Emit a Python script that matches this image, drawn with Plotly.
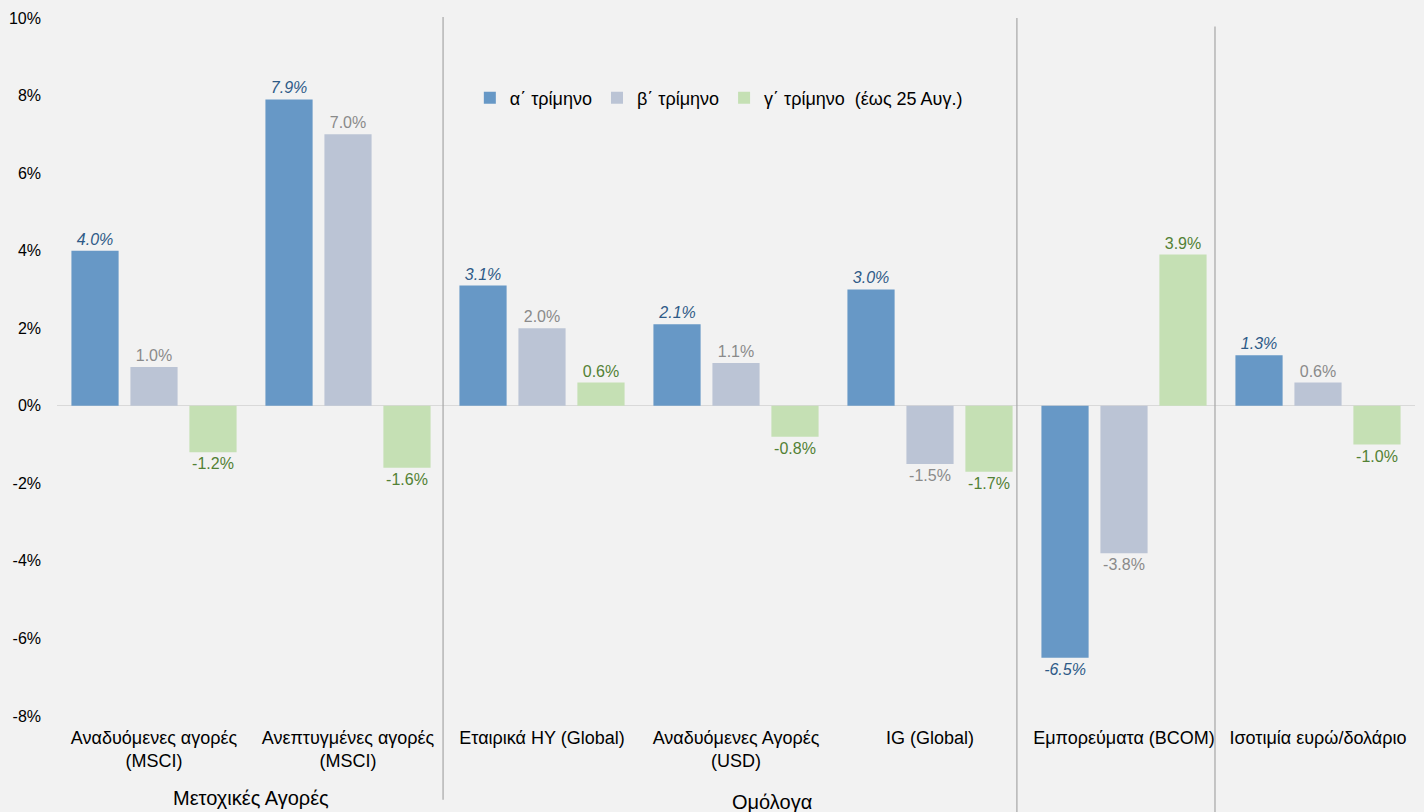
import plotly.graph_objects as go

categories = [
    "Αναδυόμενες αγορές<br>(MSCI)",
    "Ανεπτυγμένες αγορές<br>(MSCI)",
    "Εταιρικά HY (Global)",
    "Αναδυόμενες Αγορές<br>(USD)",
    "IG (Global)",
    "Εμπορεύματα (BCOM)",
    "Ισοτιμία ευρώ/δολάριο",
]
series_names = ["α΄ τρίμηνο", "β΄ τρίμηνο", "γ΄ τρίμηνο  (έως 25 Αυγ.)"]
q1 = [4.0, 7.9, 3.1, 2.1, 3.0, -6.5, 1.3]
q2 = [1.0, 7.0, 2.0, 1.1, -1.5, -3.8, 0.6]
q3 = [-1.2, -1.6, 0.6, -0.8, -1.7, 3.9, -1.0]
y_ticks = [-8, -6, -4, -2, 0, 2, 4, 6, 8, 10]
y_tick_text = ["-8%", "-6%", "-4%", "-2%", "0%", "2%", "4%", "6%", "8%", "10%"]
group_labels = ["Μετοχικές Αγορές", "Ομόλογα"]

bar_colors = ["#6798c6", "#bbc4d5", "#c5e0b4"]
label_colors = ["#2e5a87", "#8a8a8a", "#538135"]
label_styles = ["italic", "normal", "normal"]
FONT = "Arial, Liberation Sans, sans-serif"

x_idx = list(range(len(categories)))
fig = go.Figure()
for name, vals, c, lc, st in zip(series_names, [q1, q2, q3], bar_colors, label_colors, label_styles):
    fig.add_trace(go.Bar(
        x=x_idx, y=vals, name=name,
        marker=dict(color=c, line=dict(width=0)),
        texttemplate="%{y:.1f}%", textposition="outside",
        textfont=dict(family=FONT, size=16, color=lc, style=st),
        constraintext="none", cliponaxis=False,
        hoverinfo="skip",
    ))

fig.update_layout(
    width=1424, height=812,
    margin=dict(l=57, r=9, t=18, b=96),
    paper_bgcolor="#f2f2f2", plot_bgcolor="#f2f2f2",
    barmode="group", bargap=0.088, bargroupgap=0.2,
    font=dict(family=FONT, size=16, color="#000000"),
    showlegend=True,
    legend=dict(orientation="h", x=0.304, y=(716 - 98) / 698, xanchor="left", yanchor="middle",
                bgcolor="rgba(0,0,0,0)", font=dict(size=18, color="#000000"),
                traceorder="normal"),
    xaxis=dict(tickmode="array", tickvals=x_idx, ticktext=categories,
               range=[-0.5, len(categories) - 0.5],
               showgrid=False, showline=False, ticks="", zeroline=False,
               tickfont=dict(size=18, color="#000000"), ticklabelstandoff=9),
    yaxis=dict(range=[-8, 10], tickmode="array", tickvals=y_ticks, ticktext=y_tick_text,
               showgrid=False, zeroline=True, zerolinecolor="#d9d9d9", zerolinewidth=1,
               showline=False, ticks="", tickfont=dict(size=16, color="#000000"),
               ticklabelstandoff=15),
)

# separator lines between groups
for xs, y0, y1 in [(1.49, -0.12, 1.0015), (4.448, -0.14, 1.0), (5.469, -0.14, 0.988)]:
    fig.add_shape(type="line", xref="x", yref="paper", x0=xs, x1=xs, y0=y0, y1=y1,
                  line=dict(color="#a6a6a6", width=1.2))

fig.add_annotation(text=group_labels[0], xref="x", yref="paper", x=0.5, y=(716 - 798) / 698,
                   showarrow=False, yanchor="middle", font=dict(size=20, color="#000000"))
fig.add_annotation(text=group_labels[1], xref="x", yref="paper", x=3.185, y=(716 - 802) / 698,
                   showarrow=False, yanchor="middle", font=dict(size=20, color="#000000"))

fig.write_html("out.html")
